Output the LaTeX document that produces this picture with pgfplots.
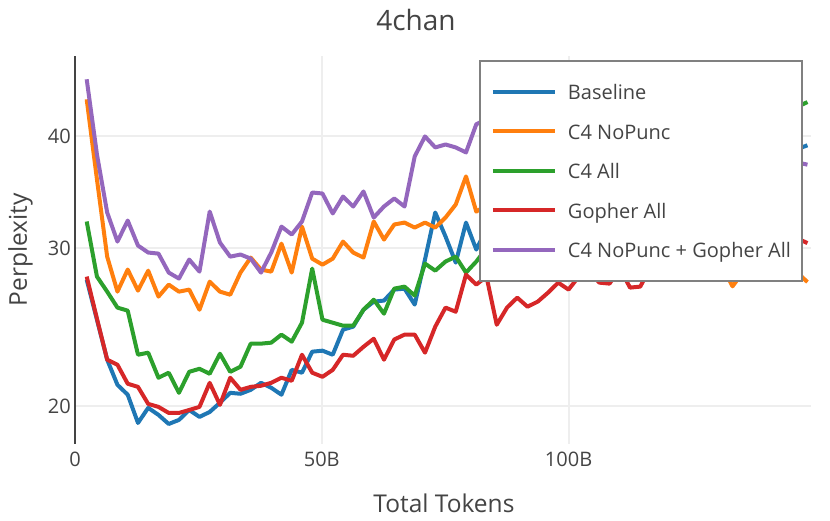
\documentclass[border=0pt]{standalone}
\usepackage{pgfplots}
\pgfplotsset{compat=1.18}
\usepackage{pgfplotstable}
\usepackage{fontspec}
\setmainfont{Open Sans}
\definecolor{cBlue}{HTML}{1F77B4}
\definecolor{cOrange}{HTML}{FF7F0E}
\definecolor{cGreen}{HTML}{2CA02C}
\definecolor{cRed}{HTML}{D62728}
\definecolor{cPurple}{HTML}{9467BD}
\definecolor{cText}{HTML}{444444}
\definecolor{cGrid}{HTML}{EEEEEE}
\definecolor{cBorder}{HTML}{808080}

\pgfplotstableread{
x base nopunc c4all gopher combo
2.37 27.67 44.01 32.14 27.89 46.34
4.45 24.96 35.81 27.89 25.03 38.19
6.52 22.52 29.36 26.83 22.52 32.89
8.60 21.11 26.83 25.75 22.23 30.52
10.68 20.58 28.40 25.55 21.17 32.22
12.76 19.14 26.90 22.81 21.00 30.21
14.83 19.90 28.32 22.93 20.10 29.67
16.91 19.54 26.49 21.50 19.95 29.59
18.99 19.09 27.32 21.78 19.64 28.18
21.06 19.29 26.83 20.68 19.64 27.75
23.14 19.79 26.97 21.83 19.79 29.14
25.22 19.44 25.61 22.00 19.95 28.25
27.29 19.69 27.53 21.72 21.22 32.97
29.37 20.16 26.83 22.87 20.05 30.44
31.45 20.68 26.62 21.83 21.50 29.36
33.53 20.63 28.18 22.12 20.84 29.52
35.60 20.84 29.29 23.47 21.00 29.21
37.68 21.22 28.40 23.47 21.06 28.18
39.76 20.95 28.25 23.53 21.22 29.67
41.83 20.58 30.36 24.02 21.50 31.72
43.91 21.94 28.18 23.59 21.33 31.08
45.99 21.78 31.72 24.77 22.81 32.14
48.06 22.99 29.21 28.47 21.78 34.63
50.14 23.05 28.76 24.96 21.55 34.54
52.22 22.81 29.21 24.77 21.94 32.81
54.30 24.33 30.52 24.58 22.81 34.27
56.37 24.52 29.67 24.58 22.75 33.40
58.45 25.61 29.29 25.61 23.28 34.72
60.53 26.15 32.14 26.28 23.77 32.47
62.60 26.22 30.68 25.35 22.52 33.40
64.68 26.97 31.89 27.04 23.72 34.10
66.76 27.04 32.05 27.18 24.02 33.40
68.83 25.95 31.64 26.56 24.02 38.00
70.91 29.14 32.05 28.84 22.93 40.00
72.99 32.89 31.64 28.32 24.52 38.89
75.07 30.92 32.47 28.99 25.75 39.19
77.14 28.91 33.57 29.36 25.48 38.89
79.22 32.05 36.09 28.18 28.03 38.39
81.30 29.90 32.97 28.99 27.32 41.27
83.37 31.5 33.5 30.0 27.89 41.8
85.45 31.0 34.0 30.8 24.64 41.0
87.53 32.0 33.2 30.4 25.75 42.3
89.60 31.5 32.5 31.5 26.42 41.5
91.68 32.5 33.0 32.0 25.81 42.6
93.76 32.0 32.0 31.6 26.15 42.0
95.84 33.0 32.6 32.8 26.76 41.2
97.91 32.5 31.8 33.2 27.46 42.5
99.99 33.5 31.5 33.0 26.97 41.8
102.07 33.0 32.2 34.0 27.89 41.0
104.14 34.0 31.0 34.5 28.3 41.6
106.22 33.5 31.4 34.2 27.46 40.8
108.30 34.5 30.6 35.2 27.39 41.3
110.37 34.0 31.0 35.8 28.5 40.5
112.45 35.0 30.2 35.5 27.11 41.0
114.53 34.5 30.5 36.5 27.18 40.2
116.61 35.0 29.8 37.0 28.6 40.6
118.68 35.5 30.2 36.8 28.8 39.8
120.76 35.2 29.5 37.8 29.2 40.3
122.84 36.0 29.8 38.3 28.9 39.5
124.91 35.8 29.0 38.0 29.5 39.9
126.99 36.5 29.4 39.0 29.3 39.2
129.07 36.2 28.8 39.6 29.8 39.6
131.14 37.0 28.6 39.3 29.6 38.8
133.22 36.6 27.2 40.2 30.2 39.2
135.30 37.5 28.2 40.8 29.9 38.5
137.38 37.2 28.6 40.6 30.5 38.9
139.45 38.0 28.0 41.6 30.3 38.2
141.53 38.3 28.5 42.0 30.8 38.5
143.61 38.8 28.2 42.3 30.6 37.8
145.68 38.6 28.4 43.0 30.9 37.5
148.40 39.1 27.5 43.7 30.4 37.2
}\data

\begin{document}
\begin{tikzpicture}
\begin{axis}[
  at={(0pt,0pt)}, anchor=south west,
  scale only axis, width=736.4pt, height=388pt,
  xmin=0, xmax=149.2, ymin=18.13, ymax=49.2, ymode=log,
  xtick={0,50,100}, xticklabels={0,50B,100B},
  ytick={20,30,40}, yticklabels={20,30,40},
  yminorticks=false,
  grid=major, major grid style={draw=cGrid, line width=2pt},
  axis x line*=bottom, axis y line*=left,
  x axis line style={draw=none},
  y axis line style={draw=cText, line width=2pt},
  tick style={draw=none},
  /pgf/number format/assume math mode=true,
  ticklabel style={font=\fontsize{20}{24}\selectfont, text=cText},
  xticklabel style={anchor=north, inner sep=0pt, yshift=-8pt},
  yticklabel style={anchor=east, inner sep=0pt, xshift=-4pt},
  title={4chan},
  every axis title/.style={at={(axis description cs:0.4631,1.0645)}, anchor=base, font=\fontsize{28}{34}\selectfont, text=cText},
  xlabel={Total Tokens},
  every axis x label/.style={at={(axis description cs:0.501,0)}, anchor=base, yshift=-69pt, font=\fontsize{24.5}{29}\selectfont, text=cText},
  ylabel={Perplexity},
  every axis y label/.style={at={(axis description cs:-0.0652,0.5)}, rotate=90, anchor=base, font=\fontsize{24.5}{29}\selectfont, text=cText},
  legend image code/.code={\draw[#1, line width=4pt, line cap=butt] (0pt,0pt) -- (62pt,0pt);},
  legend cell align=left,
  legend style={at={(axis description cs:0.5486,0.9897)}, anchor=north west,
    draw=cBorder, line width=2pt, fill=white,
    inner xsep=11pt, inner ysep=22pt, row sep=21.5pt,
    font=\fontsize{20}{24}\selectfont, text=cText,
    nodes={inner sep=0pt, text height=17pt, text depth=1pt},
    /tikz/every odd column/.append style={column sep=11pt}},
]
\addplot[cBlue, line width=4pt, line join=round] table[x=x, y=base] {\data};
\addplot[cOrange, line width=4pt, line join=round] table[x=x, y=nopunc] {\data};
\addplot[cGreen, line width=4pt, line join=round] table[x=x, y=c4all] {\data};
\addplot[cRed, line width=4pt, line join=round] table[x=x, y=gopher] {\data};
\addplot[cPurple, line width=4pt, line join=round] table[x=x, y=combo] {\data};
\legend{Baseline, C4 NoPunc, C4 All, Gopher All, C4 NoPunc + Gopher All}
\end{axis}
\path (-75pt,-76pt) rectangle (755pt,444pt);
\end{tikzpicture}
\end{document}
